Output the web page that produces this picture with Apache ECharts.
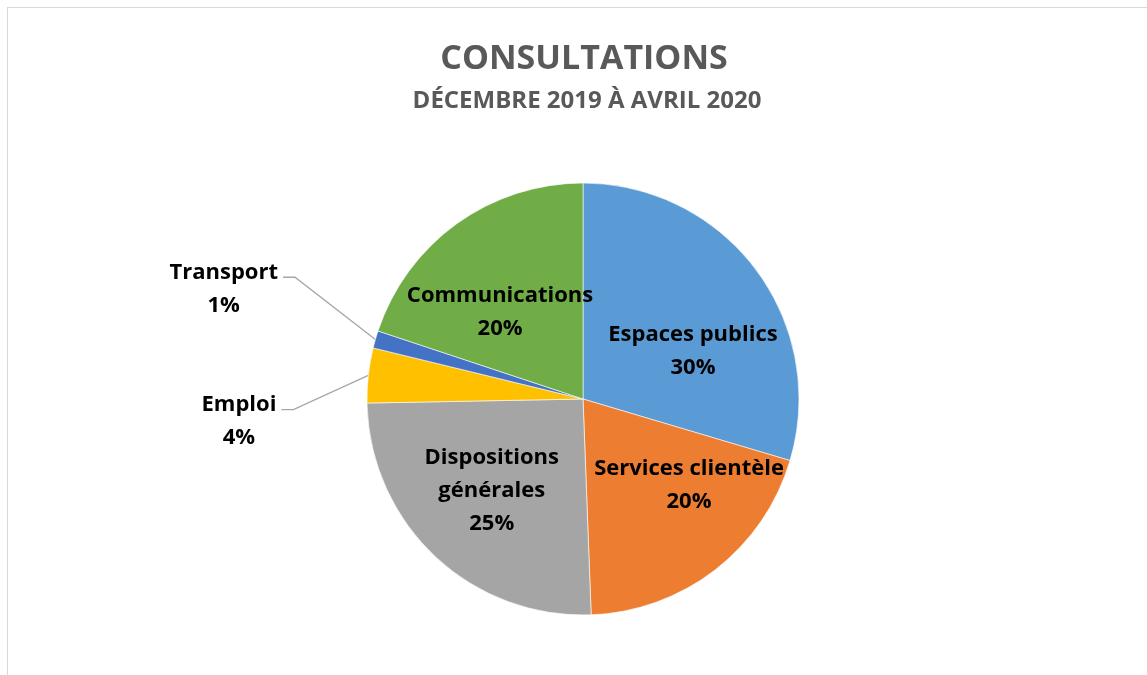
<!DOCTYPE html>
<html>
<head>
<meta charset="utf-8">
<script src="https://cdn.jsdelivr.net/npm/echarts@6/dist/echarts.min.js"></script>
<style>
html,body{margin:0;padding:0;background:#fff;overflow:hidden;}
#frame{position:absolute;left:7px;top:7px;width:1200px;height:700px;border-top:1px solid #d9d9d9;border-left:1px solid #d9d9d9;}
#chart{position:absolute;left:0;top:0;width:1147px;height:675px;}
</style>
</head>
<body>
<div id="frame"></div>
<div id="chart"></div>
<script>
const categories = ['Espaces publics', 'Services clientèle', 'Dispositions générales', 'Emploi', 'Transport', 'Communications'];
const labelNames = ['Espaces publics', 'Services clientèle', 'Dispositions\ngénérales', 'Emploi', 'Transport', 'Communications'];
const values = [29.6, 19.8, 25.3, 4.1, 1.3, 19.9];
const colors = ['#5B9BD5', '#ED7D31', '#A5A5A5', '#FFC000', '#4472C4', '#70AD47'];
const outsideItems = ['Emploi', 'Transport'];

const FONT = "'Open Sans', sans-serif";
// label nudges (style only)
const nudges = {
  'Espaces publics': [21, 19],
  'Services clientèle': [38, -1],
  'Dispositions générales': [-15, 11],
  'Communications': [-18, 3],
  'Transport': [0, -46],
  'Emploi': [6, 48]
};

const data = categories.map((c, i) => {
  const outside = outsideItems.indexOf(c) >= 0;
  return {
    name: c,
    value: values[i],
    itemStyle: { color: colors[i] },
    label: {
      position: outside ? 'outside' : 'inside',
      formatter: p => labelNames[i] + '\n' + Math.round(p.percent) + '%'
    },
    labelLine: outside ? { show: true, length: 15, length2: 78, lineStyle: { color: '#A6A6A6', width: 1.3 } } : { show: false }
  };
});

const chart = echarts.init(document.getElementById('chart'), null, { renderer: 'canvas' });
chart.setOption({
  backgroundColor: 'transparent',
  animation: false,
  title: [
    { text: 'CONSULTATIONS', left: 579, top: 37, textAlign: 'center',
      textStyle: { fontFamily: FONT, fontWeight: 'bold', fontSize: 34, color: '#595959' } },
    { text: 'DÉCEMBRE 2019 À AVRIL 2020', left: 582, top: 84, textAlign: 'center',
      textStyle: { fontFamily: FONT, fontWeight: 'bold', fontSize: 24, color: '#595959' } }
  ],
  series: [{
    type: 'pie',
    center: [583, 399],
    radius: [0, 216],
    startAngle: 90,
    clockwise: true,
    avoidLabelOverlap: false,
    data: data,
    itemStyle: { borderColor: '#ffffff', borderWidth: 0.6 },
    label: {
      fontFamily: FONT, fontWeight: 'bold', fontSize: 22, lineHeight: 33, color: '#000'
    },
    labelLayout: function (params) {
      const name = categories[params.dataIndex];
      const n = nudges[name] || [0, 0];
      if (outsideItems.indexOf(name) < 0) {
        return { dx: n[0], dy: n[1] };
      }
      const r = params.labelRect;
      const pts = params.labelLinePoints;
      const anchorX = r.x + r.width + n[0];
      const out = { align: 'center', dx: -r.width / 2 + n[0], dy: n[1] };
      if (pts) {
        const lineX = anchorX + 5;
        const lineY = r.y + n[1] + 21;
        out.labelLinePoints = [pts[0], [lineX + 12, lineY], [lineX, lineY]];
      }
      return out;
    }
  }]
});
</script>
</body>
</html>
